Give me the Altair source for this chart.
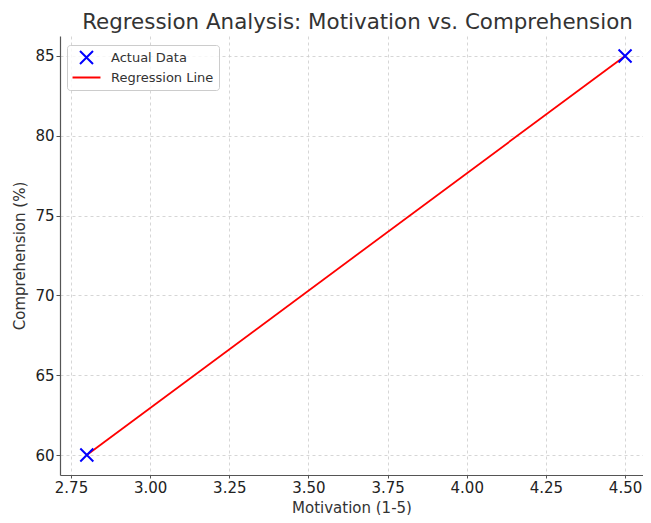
import altair as alt
import pandas as pd

# Data
motivation = [2.8, 4.5]
comprehension = [60, 85]
line_x = [2.8, 4.5]
line_y = [60, 85]

series_names = ["Actual Data", "Regression Line"]
x_ticks = [2.75, 3.00, 3.25, 3.50, 3.75, 4.00, 4.25, 4.50]
y_ticks = [60, 65, 70, 75, 80, 85]

pts = pd.DataFrame({"x": motivation, "y": comprehension, "series": series_names[0]})
reg = pd.DataFrame({"x": line_x, "y": line_y, "series": series_names[1]})

XPATH = "M-1,-1L1,1M1,-1L-1,1"
LPATH = "M-2.15,0L2.15,0"

color_scale = alt.Scale(domain=series_names, range=["#0000ff", "#ff0000"])
shape_scale = alt.Scale(domain=series_names, range=[XPATH, LPATH])

xenc = alt.X("x:Q", title="Motivation (1-5)",
             scale=alt.Scale(domain=[2.7153, 4.5567], nice=False, zero=False),
             axis=alt.Axis(values=x_ticks, format=".2f", titleY=37,
                           titleBaseline="alphabetic", tickSize=3))
yenc = alt.Y("y:Q", title="Comprehension (%)",
             scale=alt.Scale(domain=[58.75, 86.25], nice=False, zero=False),
             axis=alt.Axis(values=y_ticks, format="d"))

legend = alt.Legend(title=None, orient="none", legendX=7, legendY=9,
                    symbolSize=169, symbolStrokeWidth=2, symbolOffset=7,
                    labelFontSize=13, labelColor="#333333",
                    fillColor="rgba(255,255,255,0.8)", strokeColor="#cccccc",
                    cornerRadius=3, padding=5, rowPadding=2, labelOffset=17)

line = alt.Chart(reg).mark_line(strokeWidth=1.8).encode(
    x=xenc, y=yenc,
    color=alt.Color("series:N", scale=color_scale, legend=legend),
)

points = alt.Chart(pts).mark_point(filled=False, strokeWidth=2, size=169, opacity=1).encode(
    x=xenc, y=yenc,
    color=alt.Color("series:N", scale=color_scale, legend=legend),
    shape=alt.Shape("series:N", scale=shape_scale, legend=legend),
)

chart = alt.layer(line, points).properties(
    width=583, height=439,
    autosize=alt.AutoSizeParams(type="none"),
    padding={"left": 52, "top": 28, "right": 0, "bottom": 40},
    title=alt.Title("Regression Analysis: Motivation vs. Comprehension",
                    fontSize=21.4, font="DejaVu Sans", fontWeight="normal",
                    color="#333333", anchor="middle", offset=3, dx=6),
).configure_view(stroke=None).configure_axis(
    labelFont="DejaVu Sans", titleFont="DejaVu Sans",
    labelFontSize=15, titleFontSize=15, titleFontWeight="normal",
    labelColor="#222222", titleColor="#333333",
    domainColor="#555555", domainWidth=1.2,
    tickColor="#555555", tickSize=4,
    grid=True, gridColor="#cccccc", gridDash=[3, 3], gridWidth=0.8,
).configure_axisX(labelPadding=2).configure_axisY(
    labelPadding=2, titlePadding=7
).configure_legend(labelFont="DejaVu Sans")

chart.save("out.html", embed_options={"renderer": "svg", "actions": False})
